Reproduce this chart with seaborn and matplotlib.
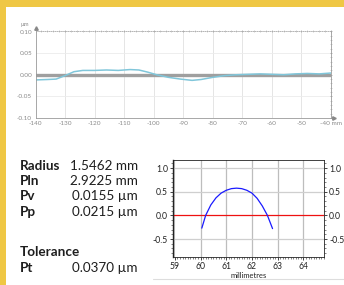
import numpy as np
import pandas as pd
import matplotlib.pyplot as plt
import seaborn as sns
from matplotlib.patches import Rectangle
from matplotlib.ticker import MultipleLocator, AutoMinorLocator

sns.set_style("white")
plt.rcParams['font.family'] = ['Lato', 'DejaVu Sans']

# Perfil superior (mm, µm)
profile_x = [-140, -136, -133, -130, -127, -124, -120, -116, -112, -108, -105, -102, -99,
             -95, -91, -87, -84, -80, -76, -72, -68, -64, -60, -56, -52, -48, -44, -40]
profile_y = [-0.012, -0.011, -0.010, -0.002, 0.007, 0.010, 0.010, 0.011, 0.010, 0.012, 0.011,
             0.006, 0.000, -0.006, -0.010, -0.013, -0.011, -0.006, -0.002, 0.000, 0.001,
             0.002, 0.001, 0.000, 0.002, 0.003, 0.002, 0.004]
top_xticks = [-140, -130, -120, -110, -100, -90, -80, -70, -60, -50, -40]
top_xlabels = ['-140', '-130', '-120', '-110', '-100', '-90', '-80', '-70', '-60', '-50', '-40 mm']
top_yticks = [-0.10, -0.05, 0.00, 0.05, 0.10]

# Arco inferior (milímetros)
arc_x = [60.05, 60.2, 60.4, 60.6, 60.8, 61.0, 61.2, 61.4, 61.6, 61.8, 62.0, 62.2, 62.4, 62.6, 62.8]
arc_y = [-0.27, 0.0, 0.22, 0.37, 0.47, 0.53, 0.565, 0.575, 0.565, 0.53, 0.47, 0.36, 0.2, 0.0, -0.28]
bot_xticks = [59, 60, 61, 62, 63, 64]
bot_yticks = [-0.5, 0.0, 0.5, 1.0]

# Resultados
names = ['Radius', 'Pln', 'Pv', 'Pp']
values = ['1.5462 mm', '2.9225 mm', '0.0155 µm', '0.0215 µm']
tol_name = 'Pt'
tol_value = '0.0370 µm'

W, H = 344, 285
fig = plt.figure(figsize=(W / 100, H / 100), dpi=100)
fig.patch.set_facecolor('#EFC744')
fig.patches.append(Rectangle((6 / W, 0), 1, 1 - 7 / H, transform=fig.transFigure,
                             facecolor='white', edgecolor='none', zorder=-5))

# ---- gráfico superior ----
ax = fig.add_axes([35.5 / W, 1 - 118 / H, (331 - 35.5) / W, (118 - 31.5) / H])
ax.set_facecolor('none')
grid_c = '#e0e0e0'
for t in top_xticks[1:-1]:
    ax.axvline(t, color=grid_c, lw=0.6, zorder=0)
for t in [-0.05, 0.05]:
    ax.axhline(t, color='#ebebeb', lw=0.6, zorder=0)
ax.axhline(0, color='#9f9f9f', lw=2.4, zorder=1)
df_top = pd.DataFrame({'x': profile_x, 'y': profile_y})
sns.lineplot(data=df_top, x='x', y='y', ax=ax, color='#80c6da', lw=1.1, zorder=2)
ax.set_xlim(-140, -40)
ax.set_ylim(-0.10, 0.10)
ax.set_xticks(top_xticks)
ax.set_xticklabels(top_xlabels)
ax.set_yticks(top_yticks)
ax.set_yticklabels([f'{v:.2f}' for v in top_yticks])
ax.xaxis.set_minor_locator(MultipleLocator(2))
ax.yaxis.set_minor_locator(MultipleLocator(0.01))
ax.tick_params(axis='both', which='major', labelsize=4.6, labelcolor='#8a8a8a', color='#999999',
               length=2, width=0.5, pad=1.5, direction='inout')
ax.tick_params(axis='both', which='minor', color='#aaaaaa', length=1.5, width=0.4, direction='inout')
ax.tick_params(axis='x', top=True, which='both')
ax.tick_params(axis='y', right=True, which='both')
for s in ['left', 'bottom', 'right']:
    ax.spines[s].set_color('#999999')
    ax.spines[s].set_linewidth(0.6)
ax.spines['top'].set_color('#aaaaaa')
ax.spines['top'].set_linestyle((0, (1, 1.5)))
ax.spines['top'].set_linewidth(0.6)
ax.set_xlabel('')
ax.set_ylabel('')
ax.text(-0.035, 1.05, 'µm', transform=ax.transAxes, fontsize=4.2, color='#8a8a8a',
        ha='center', va='bottom')
ax.plot(0, 1.04, marker='^', ms=2.5, color='#888888', transform=ax.transAxes, clip_on=False)
ax.plot(1.01, 0, marker='>', ms=2.5, color='#888888', transform=ax.transAxes, clip_on=False)

# ---- texto de resultados ----
fs = 9.7
y0 = 1 - 166 / H
dy = 15.2 / H
for i, (n, v) in enumerate(zip(names, values)):
    fig.text(20 / W, y0 - i * dy, n, fontsize=fs, fontweight='bold', color='#1e1e1e', va='center')
    fig.text(138 / W, y0 - i * dy, v, fontsize=fs, color='#1e1e1e', va='center', ha='right')
fig.text(20 / W, 1 - 252 / H, 'Tolerance', fontsize=fs, fontweight='bold', color='#1e1e1e', va='center')
fig.text(20 / W, 1 - 268 / H, tol_name, fontsize=fs, fontweight='bold', color='#1e1e1e', va='center')
fig.text(138 / W, 1 - 268 / H, tol_value, fontsize=fs, color='#1e1e1e', va='center', ha='right')

# ---- gráfico inferior ----
bx = fig.add_axes([173 / W, 1 - 257 / H, (324 - 173) / W, (257 - 160) / H])
for t in bot_xticks[1:]:
    bx.axvline(t, color='#bdbdbd', lw=0.9, zorder=0)
for t in [-0.5, 0.5, 1.0]:
    bx.axhline(t, color='#cfcfcf', lw=0.9, zorder=0)
bx.axhline(0, color='#ee1111', lw=0.9, zorder=1)
df_arc = pd.DataFrame({'x': arc_x, 'y': arc_y})
sns.lineplot(data=df_arc, x='x', y='y', ax=bx, color='#1a1aff', lw=0.9, zorder=2, sort=False)
bx.set_xlim(58.93, 64.8)
bx.set_ylim(-0.88, 1.17)
bx.set_xticks(bot_xticks)
bx.set_yticks(bot_yticks)
bx.set_yticklabels([f'{v:.1f}' for v in bot_yticks])
bx.xaxis.set_minor_locator(AutoMinorLocator(10))
bx.yaxis.set_minor_locator(AutoMinorLocator(5))
bx.tick_params(axis='both', which='major', labelsize=6.2, labelcolor='#222222', length=2.5,
               width=0.6, pad=1.2, left=True, bottom=True, right=True, labelright=True)
bx.tick_params(axis='both', which='minor', length=1.3, width=0.4, left=True, bottom=True, right=True)
for s in bx.spines.values():
    s.set_color('#222222')
    s.set_linewidth(0.6)
bx.spines['left'].set_linewidth(1.0)
bx.axvline(58.97, color='#cccccc', lw=1.5, zorder=0)
bx.set_xlabel('millimetres', fontsize=5.4, labelpad=0.6, color='#222222')
bx.set_ylabel('')

fig.add_artist(plt.Line2D([153 / W, 1], [1 - 279 / H] * 2, color='#dddddd', lw=0.8))

fig.savefig('out.png', dpi=100)
